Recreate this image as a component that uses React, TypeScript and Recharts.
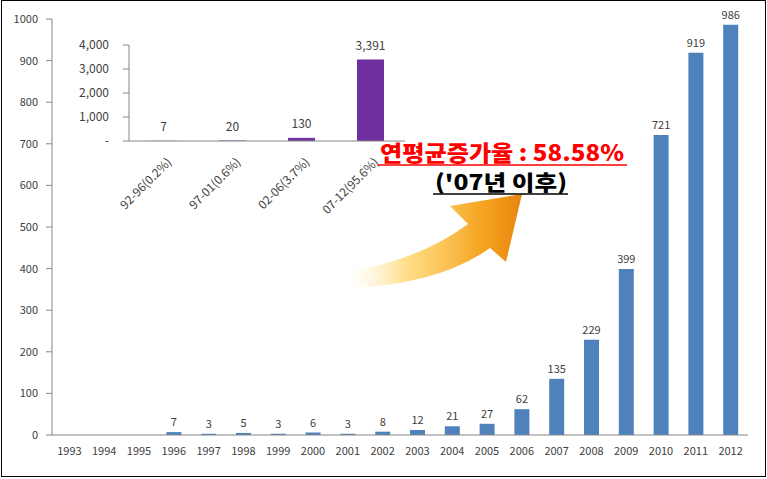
import { BarChart, Bar, XAxis, YAxis, LabelList } from "recharts"

const years = ["1993", "1994", "1995", "1996", "1997", "1998", "1999", "2000", "2001", "2002", "2003", "2004", "2005", "2006", "2007", "2008", "2009", "2010", "2011", "2012"]
const counts = [null, null, null, 7, 3, 5, 3, 6, 3, 8, 12, 21, 27, 62, 135, 229, 399, 721, 919, 986]
const yTicks = [0, 100, 200, 300, 400, 500, 600, 700, 800, 900, 1000]

const periods = ["92-96(0.2%)", "97-01(0.6%)", "02-06(3.7%)", "07-12(95.6%)"]
const periodTotals = [7, 20, 130, 3391]
const insetTicks = [0, 1000, 2000, 3000, 4000]

const mainData = years.map((year, i) => ({ year, count: counts[i], slot: i + 0.5 }))
const insetData = periods.map((period, i) => ({ period, total: periodTotals[i], slot: i + 0.5 }))

const FONT = "'Noto Sans CJK KR', 'Noto Sans', sans-serif"
const AXIS = "#868686"
const TEXT = "#404040"

function RotatedTick({ x, y, payload }: any) {
  return (
    <g transform={`translate(${x + 6},${y + 10})`}>
      <text transform="rotate(-45)" textAnchor="end" fontSize={12} fill={TEXT} fontFamily={FONT} dy={4}>
        {payload.value}
      </text>
    </g>
  )
}

export default function App() {
  return (
    <div style={{ position: "absolute", left: 0, top: 0, width: 767, height: 479, background: "#fff", fontFamily: FONT }}>
      <div style={{ position: "absolute", left: 1, top: 0, width: 765, height: 477, border: "1px solid #000", boxSizing: "border-box" }} />

      <div style={{ position: "absolute", left: 0, top: 0 }}>
        <BarChart width={767} height={479} data={mainData} margin={{ top: 19, right: 19, left: 0, bottom: 0 }}>
          {/* "a": axis line + ticks between categories, "b": year labels at centres */}
          <XAxis
            xAxisId="a"
            dataKey="slot"
            type="number"
            domain={[0, 20]}
            ticks={years.map((_, i) => i).concat([20])}
            allowDataOverflow
            height={1}
            tick={false}
            tickSize={5}
            stroke={AXIS}
          />
          <XAxis
            xAxisId="b"
            dataKey="year"
            height={43}
            axisLine={false}
            tickLine={false}
            tickSize={9}
            interval={0}
            tick={{ fontSize: 11, fill: TEXT, fontFamily: FONT }}
          />
          <YAxis
            domain={[0, 1000]}
            ticks={yTicks}
            width={52}
            stroke={AXIS}
            tickSize={6}
            tickMargin={8}
            tick={{ fontSize: 11, fill: TEXT, fontFamily: FONT }}
          />
          <Bar xAxisId="b" dataKey="count" fill="#4F81BD" barSize={15} isAnimationActive={false}>
            <LabelList dataKey="count" position="top" offset={6} fontSize={11} fill={TEXT} fontFamily={FONT} />
          </Bar>
        </BarChart>
      </div>

      <div style={{ position: "absolute", left: 60, top: 0 }}>
        <BarChart width={350} height={230} data={insetData} margin={{ top: 45, right: 5, left: 0, bottom: 0 }}>
          <XAxis
            xAxisId="a"
            dataKey="slot"
            type="number"
            domain={[0, 4]}
            ticks={[0, 1, 2, 3, 4]}
            allowDataOverflow
            height={1}
            tick={false}
            tickSize={4}
            stroke={AXIS}
          />
          <XAxis
            xAxisId="b"
            dataKey="period"
            height={88}
            axisLine={false}
            tickLine={false}
            interval={0}
            tick={<RotatedTick />}
          />
          <YAxis
            domain={[0, 4000]}
            ticks={insetTicks}
            width={69}
            stroke={AXIS}
            tickSize={6}
            tickMargin={14}
            tickFormatter={(v: number) => (v === 0 ? "-" : v.toLocaleString("en-US"))}
            tick={{ fontSize: 12, fill: TEXT, fontFamily: FONT }}
          />
          <Bar xAxisId="b" dataKey="total" fill="#7030A0" barSize={27} isAnimationActive={false}>
            <LabelList
              dataKey="total"
              position="top"
              offset={10}
              fontSize={12}
              fill={TEXT}
              fontFamily={FONT}
              formatter={(v: any) => Number(v).toLocaleString("en-US")}
            />
          </Bar>
        </BarChart>
      </div>

      <svg width={767} height={479} style={{ position: "absolute", left: 0, top: 0, pointerEvents: "none" }}>
        <defs>
          <linearGradient id="arrowGrad" x1="345" y1="0" x2="525" y2="0" gradientUnits="userSpaceOnUse">
            <stop offset="0%" stopColor="#FFF2CC" stopOpacity={0} />
            <stop offset="35%" stopColor="#FFD466" stopOpacity={0.8} />
            <stop offset="75%" stopColor="#F5A623" />
            <stop offset="100%" stopColor="#E8820C" />
          </linearGradient>
        </defs>
        <path
          d="M 346,272 Q 420,260 468,224 L 450,206 L 522,194 L 506,262 L 490,248 Q 440,284 350,288 Z"
          fill="url(#arrowGrad)"
        />
        <text x={380} y={161} textLength={244} lengthAdjust="spacingAndGlyphs" fontSize={22} fontWeight={900} fill="#FF0000" fontFamily={FONT}>
          연평균증가율 : 58.58%
        </text>
        <line x1={378} y1={165} x2={627} y2={165} stroke="#FF0000" strokeWidth={1.5} />
        <text x={435} y={190} textLength={132} lengthAdjust="spacingAndGlyphs" fontSize={21} fontWeight={900} fill="#000" fontFamily={FONT}>
          ('07년 이후)
        </text>
        <line x1={433} y1={194} x2={568} y2={194} stroke="#000" strokeWidth={1.5} />
      </svg>
    </div>
  )
}
